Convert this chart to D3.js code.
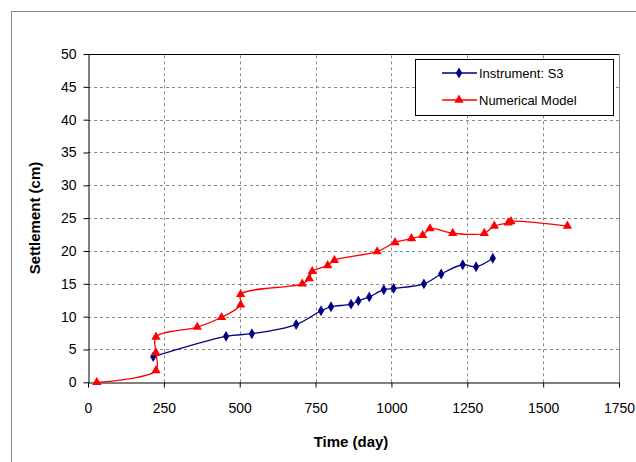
<!DOCTYPE html>
<html>
<head>
<meta charset="utf-8">
<script src="https://cdn.jsdelivr.net/npm/d3@7"></script>
<style>
  body { margin: 0; background: #fff; }
  svg { display: block; font-family: "Liberation Sans", Arial, sans-serif; }
  .axis path, .axis line { stroke: #000; }
  .axis text { font-size: 14px; fill: #000; }
  .grid line { stroke: #888; stroke-dasharray: 3,3; }
  .axes-label { font-size: 15px; font-weight: bold; text-anchor: middle; }
</style>
</head>
<body>
<div id="chart"></div>
<script>
const instrumentDays = [215, 455, 540, 686, 768, 801, 867, 891, 927, 975, 1007, 1107, 1164, 1235, 1279, 1334];
const instrumentSettlement = [3.9, 7.0, 7.4, 8.8, 10.9, 11.5, 11.9, 12.4, 13.0, 14.1, 14.3, 15.0, 16.5, 17.9, 17.6, 18.9];

const modelDays = [29, 224, 224, 224, 360, 440, 503, 503, 706, 729, 739, 790, 812, 953, 1012, 1066, 1103, 1127, 1202, 1306, 1339, 1385, 1394, 1580];
const modelSettlement = [0, 1.8, 4.5, 6.9, 8.4, 9.9, 11.8, 13.4, 15.0, 15.8, 16.9, 17.8, 18.6, 19.9, 21.3, 21.9, 22.4, 23.4, 22.7, 22.7, 23.8, 24.3, 24.5, 23.8];

const xTicks = [0, 250, 500, 750, 1000, 1250, 1500, 1750];
const yTicks = [0, 5, 10, 15, 20, 25, 30, 35, 40, 45, 50];

const seriesNames = ['Instrument: S3', 'Numerical Model'];

let width = 636, height = 462,
    margin = {top: 54, left: 88, right: 17, bottom: 80};

let xScale = d3.scaleLinear()
        .domain([0, 1750])
        .range([margin.left, width - margin.right]),
    yScale = d3.scaleLinear()
        .domain([0, 50])
        .range([height - margin.bottom + 0.3, margin.top]);

let svg = d3.select('#chart')
    .append('svg')
    .attr('width', width)
    .attr('height', height);

// outer chart frame
svg.append('rect')
    .attr('x', 11.5).attr('y', 11.5)
    .attr('width', 700).attr('height', 600)
    .attr('fill', 'none')
    .attr('stroke', '#888');

// gridlines
svg.append('g')
    .classed('grid', true)
    .selectAll('line')
    .data(yTicks.slice(1, -1)).enter()
    .append('line')
    .attr('x1', xScale(0)).attr('x2', xScale(1750))
    .attr('y1', d => Math.round(yScale(d)) + 0.5)
    .attr('y2', d => Math.round(yScale(d)) + 0.5);

svg.append('g')
    .classed('grid', true)
    .selectAll('line')
    .data(xTicks.slice(1, -1)).enter()
    .append('line')
    .attr('y1', yScale(0)).attr('y2', yScale(50))
    .attr('x1', d => Math.round(xScale(d)) + 0.5)
    .attr('x2', d => Math.round(xScale(d)) + 0.5);

// plot area border (top black, right gray)
svg.append('line')
    .attr('x1', xScale(0)).attr('x2', xScale(1750))
    .attr('y1', Math.round(yScale(50)) + 0.5).attr('y2', Math.round(yScale(50)) + 0.5)
    .attr('stroke', '#000');
svg.append('line')
    .attr('x1', Math.round(xScale(1750)) + 0.5).attr('x2', Math.round(xScale(1750)) + 0.5)
    .attr('y1', yScale(50)).attr('y2', yScale(0))
    .attr('stroke', '#888');

// x axis
let xAxis = svg.append('g')
    .classed('axis', true)
    .attr('transform', `translate(0,${Math.round(yScale(0)) + 0.5})`)
    .call(d3.axisBottom(xScale).tickValues(xTicks).tickFormat(d3.format('d'))
        .tickSize(5).tickPadding(21).tickSizeOuter(0));
xAxis.selectAll('text').attr('dy', '0.35em');

// y axis
svg.append('g')
    .classed('axis', true)
    .attr('transform', `translate(${Math.round(xScale(0)) + 0.5},0)`)
    .call(d3.axisLeft(yScale).tickValues(yTicks).tickSize(5).tickPadding(7).tickSizeOuter(0));

// axis labels
svg.append('text')
    .classed('axes-label', true)
    .attr('x', 351)
    .attr('y', 447)
    .text('Time (day)');

svg.append('text')
    .classed('axes-label', true)
    .attr('transform', 'translate(40,218) rotate(-90)')
    .text('Settlement (cm)');

// series
let series = [
    {name: seriesNames[0], xs: instrumentDays, ys: instrumentSettlement, color: '#000080', symbol: d3.symbolDiamond, size: 34},
    {name: seriesNames[1], xs: modelDays, ys: modelSettlement, color: '#ff0000', symbol: d3.symbolTriangle, size: 38}
];

let line = d3.line()
    .x(d => xScale(d[0]))
    .y(d => yScale(d[1]))
    .curve(d3.curveCatmullRom.alpha(0.5));

series.forEach(s => {
    let pts = s.xs.map((x, i) => [x, s.ys[i]]);
    svg.append('path')
        .datum(pts)
        .attr('fill', 'none')
        .attr('stroke', s.color)
        .attr('stroke-width', 1.3)
        .attr('d', line);
    svg.append('g')
        .selectAll('path')
        .data(pts).enter()
        .append('path')
        .attr('transform', d => `translate(${xScale(d[0])},${yScale(d[1])})`)
        .attr('d', d3.symbol().type(s.symbol).size(s.size))
        .attr('fill', s.color);
});

// legend
let legend = svg.append('g').attr('transform', 'translate(415,59)');
legend.append('rect')
    .attr('x', 0.5).attr('y', 0.5)
    .attr('width', 198).attr('height', 56)
    .attr('fill', '#fff')
    .attr('stroke', '#000');

series.forEach((s, i) => {
    let yy = 14 + i * 27;
    legend.append('line')
        .attr('x1', 27).attr('x2', 62)
        .attr('y1', yy).attr('y2', yy)
        .attr('stroke', s.color)
        .attr('stroke-width', 1.3);
    legend.append('path')
        .attr('transform', `translate(44,${yy})`)
        .attr('d', d3.symbol().type(s.symbol).size(s.size))
        .attr('fill', s.color);
    legend.append('text')
        .attr('x', 64)
        .attr('y', yy)
        .attr('dy', '0.35em')
        .style('font-size', '13px')
        .text(s.name);
});
</script>
</body>
</html>
